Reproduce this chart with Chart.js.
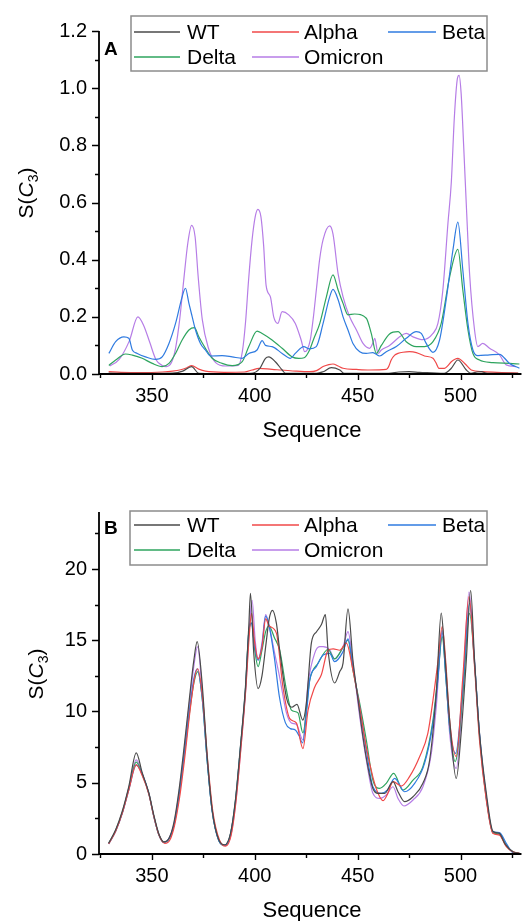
<!DOCTYPE html>
<html>
<head>
<meta charset="utf-8">
<title>S(C3) per sequence</title>
<script src="https://cdn.jsdelivr.net/npm/chart.js@4.4.1/dist/chart.umd.min.js"></script>
<style>
  html, body { margin: 0; padding: 0; background: #fff; }
  body { width: 522px; height: 921px; position: relative; overflow: hidden; }
  canvas { position: absolute; left: 0; }
  #chartA { top: 0; }
  #chartB { top: 460px; }
</style>
</head>
<body>
<canvas id="chartA" width="522" height="460"></canvas>
<canvas id="chartB" width="522" height="461"></canvas>
<script>
// ── Series ──────────────────────────────────────────────────
const seriesNames = ['WT', 'Alpha', 'Beta', 'Delta', 'Omicron'];
const seriesColors = ['#4a4a4a', '#f04848', '#2f7be0', '#2ea45e', '#b67de6'];

// ── Tick labels ─────────────────────────────────────────────
const xMajor = [350, 400, 450, 500];
const aYMajor = [0, 0.2, 0.4, 0.6, 0.8, 1.0, 1.2];
const bYMajor = [0, 5, 10, 15, 20];

// ── Panel A data (sequence position, S(C3)) ─────────────────
const aWtSeq = [329, 340, 360, 365, 369.3, 372.8, 380, 398, 402.5, 405.2, 406.8, 410, 413.3, 415, 430, 433.2, 437.2, 441.3, 443.5, 465, 470, 475, 480, 492, 495.5, 498.7, 502.8, 505, 508, 510, 513, 528];
const aWtVal = [0.003, 0.002, 0.003, 0.01, 0.026, 0.002, 0.001, 0.002, 0.02, 0.055, 0.06, 0.043, 0.014, 0.002, 0.002, 0.008, 0.022, 0.014, 0.002, 0.002, 0.007, 0.008, 0.006, 0.002, 0.02, 0.049, 0.014, 0.002, 0.007, 0.008, 0.002, 0.002];

const aAlphaSeq = [329, 335, 345, 355, 360, 364, 367, 369.3, 372.8, 376, 385, 395, 398.7, 402, 408.4, 413, 420, 426.7, 430, 433.2, 436, 438, 440.5, 442.9, 449.4, 455.8, 463.9, 465, 466.3, 468, 469.6, 472, 475.2, 478.5, 482.5, 486.6, 488, 489.5, 492.2, 494, 495.5, 498.7, 502, 505.2, 510.8, 520, 528];
const aAlphaVal = [0.008, 0.006, 0.005, 0.007, 0.01, 0.015, 0.022, 0.029, 0.017, 0.01, 0.006, 0.007, 0.014, 0.02, 0.016, 0.014, 0.01, 0.008, 0.012, 0.026, 0.033, 0.035, 0.028, 0.02, 0.016, 0.014, 0.016, 0.025, 0.049, 0.066, 0.072, 0.076, 0.078, 0.075, 0.063, 0.055, 0.04, 0.02, 0.02, 0.03, 0.043, 0.055, 0.037, 0.014, 0.008, 0.005, 0.003];

const aBetaSeq = [329.1, 332.4, 336.4, 338.8, 340.5, 342.9, 346.9, 351.8, 355, 358.3, 361.5, 364.7, 366.3, 368, 369.6, 371.2, 373.6, 376, 378.5, 384.1, 389, 393.9, 397.1, 401.1, 403.6, 405.2, 408.4, 413.3, 417.3, 419.7, 423.8, 426.5, 429.9, 433.2, 436.4, 438, 440.5, 442.9, 445.3, 447.7, 451, 454.2, 457.4, 460.7, 463.9, 468.8, 473.6, 478.5, 480.9, 483.3, 486.6, 489.8, 493, 496.3, 498.7, 501.1, 503.6, 506, 508.4, 514.1, 518.9, 523.8, 528.6];
const aBetaVal = [0.072, 0.113, 0.13, 0.125, 0.084, 0.072, 0.06, 0.051, 0.06, 0.107, 0.177, 0.27, 0.3, 0.247, 0.2, 0.154, 0.107, 0.084, 0.063, 0.064, 0.06, 0.055, 0.072, 0.084, 0.117, 0.1, 0.096, 0.072, 0.055, 0.072, 0.096, 0.088, 0.096, 0.177, 0.27, 0.296, 0.26, 0.2, 0.154, 0.107, 0.078, 0.072, 0.075, 0.063, 0.078, 0.096, 0.125, 0.148, 0.142, 0.107, 0.076, 0.119, 0.259, 0.434, 0.531, 0.364, 0.177, 0.084, 0.064, 0.067, 0.069, 0.037, 0.02];

const aDeltaSeq = [329.1, 332.4, 337.2, 340.5, 345.3, 350.2, 355, 358.3, 361.5, 364.7, 368, 370.7, 372.8, 376, 379.3, 384.1, 389, 393.9, 397.1, 401.1, 403.6, 408.4, 413.3, 418.1, 421.4, 424, 426.7, 428.5, 431.6, 434.8, 438, 440.5, 442.9, 445.3, 448.5, 454.2, 456.6, 459.1, 461.5, 465.5, 469.6, 473.6, 478.5, 482.5, 486.6, 490.6, 494.7, 498.7, 501.1, 503.6, 506, 509.2, 515.7, 523.8, 528.6];
const aDeltaVal = [0.03, 0.049, 0.07, 0.066, 0.055, 0.037, 0.026, 0.037, 0.072, 0.119, 0.154, 0.162, 0.13, 0.09, 0.055, 0.037, 0.029, 0.043, 0.096, 0.15, 0.142, 0.119, 0.09, 0.06, 0.055, 0.057, 0.085, 0.12, 0.177, 0.27, 0.347, 0.294, 0.247, 0.207, 0.21, 0.195, 0.142, 0.072, 0.1, 0.14, 0.148, 0.113, 0.096, 0.096, 0.113, 0.177, 0.34, 0.436, 0.294, 0.154, 0.072, 0.049, 0.04, 0.037, 0.035];

const aOmicronSeq = [329.5, 334, 339, 343.2, 346, 349, 352, 355, 357, 359.5, 361.5, 363.5, 365.5, 367.5, 369.3, 371, 372.5, 374.5, 377.5, 381, 386, 392, 394, 395.5, 397, 398.7, 400.2, 401.5, 403, 404.3, 405.5, 407.6, 409.2, 411.2, 413.3, 416.5, 419.7, 422.5, 424.3, 425.5, 427, 428.5, 430, 431.5, 433.2, 436.4, 438, 440.5, 442.9, 446.1, 449.4, 452.6, 455.8, 457.5, 458.3, 459.9, 461.5, 465.5, 470.4, 473.6, 476.9, 481.7, 486.6, 489, 491.4, 493.9, 495.5, 497, 498.5, 499.3, 500.3, 501.5, 503, 504.4, 506.8, 508.4, 510.8, 514.1, 518.9, 522.2, 527];
const aOmicronVal = [0.028, 0.05, 0.115, 0.2, 0.17, 0.11, 0.05, 0.03, 0.026, 0.04, 0.09, 0.19, 0.33, 0.46, 0.52, 0.48, 0.34, 0.19, 0.09, 0.04, 0.028, 0.03, 0.08, 0.18, 0.33, 0.47, 0.55, 0.576, 0.55, 0.45, 0.31, 0.27, 0.2, 0.177, 0.218, 0.207, 0.177, 0.12, 0.078, 0.085, 0.12, 0.2, 0.3, 0.4, 0.47, 0.518, 0.49, 0.35, 0.27, 0.2, 0.154, 0.107, 0.09, 0.11, 0.125, 0.072, 0.084, 0.1, 0.13, 0.142, 0.13, 0.12, 0.142, 0.177, 0.294, 0.53, 0.67, 0.9, 1.035, 1.045, 0.98, 0.8, 0.56, 0.35, 0.154, 0.096, 0.107, 0.09, 0.067, 0.032, 0.026];

// ── Panel B data ────────────────────────────────────────────
const bWtSeq = [329, 332.4, 335.6, 338.8, 342.4, 345.3, 348.5, 351, 353.4, 355.8, 358.3, 360.7, 363.1, 365.5, 368, 370.4, 372, 374.4, 376.9, 379.3, 382.5, 385.4, 388.2, 390.6, 393, 395.5, 397.1, 397.9, 399.5, 401.6, 403.5, 405.5, 407, 408.6, 410.5, 412.1, 415.5, 418, 420.5, 423.3, 425, 427.5, 430, 432.4, 434.3, 435.6, 438.8, 441.3, 442.9, 445.3, 447.7, 450.2, 452.6, 455, 457.4, 459.9, 463.1, 467.2, 469.6, 472.8, 476.9, 481.7, 485, 488.2, 490.6, 492.2, 494.7, 497.9, 500.3, 502.8, 504.9, 506.8, 509.2, 512.5, 515.7, 518.9, 521.4, 525.4, 528.6];
const bWtVal = [0.75, 1.7, 3.0, 4.75, 7.1, 5.7, 4.3, 2.7, 1.4, 0.85, 1.1, 2.2, 4.4, 7.3, 10.6, 13.6, 14.9, 12.0, 6.8, 3.1, 1.0, 0.65, 1.45, 3.8, 7.5, 11.8, 16.0, 18.3, 14.1, 11.6, 12.5, 14.8, 16.5, 17.1, 16.2, 14.3, 10.9, 10.3, 10.5, 9.4, 10.5, 14.8, 15.6, 16.1, 16.8, 14.3, 12.0, 12.8, 13.4, 17.2, 13.6, 10.8, 8.2, 6.1, 4.6, 4.26, 4.26, 5.08, 4.37, 3.67, 4.02, 4.96, 6.6, 11.3, 16.9, 14.3, 9.4, 5.3, 8.5, 13.6, 18.5, 13.6, 8.5, 4.3, 1.6, 1.45, 0.75, 0.16, 0.05];

const bAlphaSeq = [329, 332.4, 335.6, 338.8, 342.4, 345.3, 348.5, 351, 353.4, 356.3, 358.8, 361, 363.5, 366, 368.5, 370.8, 372.3, 374.6, 377.2, 379.6, 382.8, 385.8, 388.5, 390.8, 393.2, 395.6, 397.4, 398.4, 399.8, 401.6, 403.5, 405.3, 407, 410.5, 413.7, 417, 420.2, 423.4, 425.9, 429.1, 432.4, 435.6, 438.1, 441.3, 444.5, 447.7, 451, 454.2, 457.4, 459.9, 462.3, 464.5, 467.2, 471.2, 475.2, 480.1, 484.1, 486.6, 489, 491.1, 492.8, 494.7, 497.9, 501.1, 504.1, 506.8, 509.2, 512.5, 515.7, 518.9, 522.2, 525.5, 528.6];
const bAlphaVal = [0.7, 1.6, 2.85, 4.5, 6.25, 5.5, 4.2, 2.6, 1.35, 0.75, 1.0, 2.0, 4.0, 6.8, 10.0, 12.4, 13.0, 11.0, 6.4, 3.0, 1.0, 0.55, 1.3, 3.6, 7.3, 11.5, 15.5, 16.9, 15.0, 13.7, 14.5, 16.5, 16.0, 15.5, 11.7, 9.5, 9.2, 7.4, 10.1, 11.7, 12.6, 14.3, 14.4, 14.3, 14.8, 12.9, 10.3, 7.5, 5.4, 4.26, 3.74, 4.2, 5.08, 4.77, 5.43, 6.83, 8.47, 10.8, 13.5, 15.95, 13.5, 9.4, 6.83, 12.4, 18.06, 13.15, 8.0, 3.79, 1.45, 1.33, 0.51, 0.15, 0.05];

const bBetaSeq = [329, 332.4, 335.6, 338.8, 342.4, 345.3, 348.5, 351, 353.4, 355.8, 358.3, 360.7, 363.1, 365.5, 368, 370.4, 372, 374.4, 376.9, 379.3, 382.5, 385.4, 388.2, 390.6, 393, 395.5, 397.1, 398.3, 400, 401.6, 403.5, 405.3, 407, 409.5, 412, 414.9, 417.3, 419.7, 421.5, 423.2, 425.4, 426.7, 429.9, 433.2, 436.4, 438.8, 442.9, 445.3, 447.7, 451, 454.2, 457.4, 461.5, 464.5, 468, 472.8, 477.7, 482.5, 486.6, 489, 491, 492.8, 494.7, 497.6, 501.1, 504.4, 506.8, 509.2, 512.5, 515.7, 518.9, 522.2, 525.4, 528.6];
const bBetaVal = [0.7, 1.6, 2.85, 4.5, 6.25, 5.6, 4.25, 2.6, 1.35, 0.82, 1.05, 2.0, 4.0, 6.7, 9.8, 12.3, 13.0, 11.0, 6.5, 3.0, 0.95, 0.6, 1.4, 3.7, 7.4, 11.6, 15.6, 16.2, 14.5, 13.6, 14.6, 16.7, 16.0, 13.8, 11.0, 9.2, 8.8, 8.7, 8.3, 7.8, 10.3, 12.2, 13.14, 13.96, 14.08, 13.5, 14.2, 15.1, 13.1, 10.3, 7.3, 4.72, 4.26, 4.5, 5.31, 4.37, 4.96, 6.36, 9.17, 12.3, 15.7, 12.5, 8.94, 7.06, 11.74, 17.6, 13.38, 8.47, 4.02, 1.57, 1.5, 0.75, 0.1, 0.03];

const bDeltaSeq = [329, 332.4, 335.6, 338.8, 342.4, 345.3, 348.5, 351, 353.4, 355.8, 358.3, 360.7, 363.1, 365.5, 368, 370.4, 372.3, 374.4, 376.9, 379.3, 382.5, 385.4, 388.2, 390.6, 393, 395.5, 397.1, 398.5, 400, 401.6, 403.5, 405.3, 406.9, 409.5, 412.1, 415.4, 417.8, 421, 423.4, 426.7, 430.8, 435.6, 438.8, 442.9, 445.3, 447.7, 451, 454.2, 457.4, 460.7, 463.9, 467.5, 472, 476.9, 481.7, 486.6, 489, 491.1, 492.8, 494.7, 497.4, 501.1, 504.4, 506.8, 509.2, 512.5, 515.7, 518.9, 522.2, 525.5, 528.6];
const bDeltaVal = [0.75, 1.65, 2.9, 4.6, 6.45, 5.6, 4.25, 2.6, 1.35, 0.82, 1.05, 2.0, 4.0, 6.6, 9.6, 12.0, 12.8, 11.0, 6.5, 3.0, 0.95, 0.6, 1.4, 3.7, 7.4, 11.6, 15.6, 16.2, 14.3, 13.15, 14.3, 15.6, 16.0, 15.2, 14.3, 11.5, 10.1, 9.9, 8.5, 12.2, 13.4, 14.35, 13.7, 14.5, 15.0, 12.9, 10.57, 8.0, 5.19, 4.61, 4.96, 5.66, 4.49, 5.19, 6.13, 9.4, 12.5, 15.25, 12.5, 8.94, 6.48, 11.27, 16.89, 13.38, 8.3, 3.9, 1.5, 1.4, 0.6, 0.15, 0.05];

const bOmicronSeq = [329, 332.4, 335.6, 338.8, 342.4, 345.3, 348.5, 351, 353.4, 355.8, 358.3, 360.7, 363.1, 365.5, 368, 370.4, 372.2, 374.4, 376.9, 379.3, 382.5, 385.8, 388.5, 390.8, 393.2, 395.6, 397.3, 398.7, 400.2, 401.6, 403.5, 405.3, 407, 409.5, 412.1, 415.4, 417.8, 420.2, 423.4, 425.9, 429.1, 431.5, 433.2, 436.4, 438.8, 442.9, 445.3, 447.7, 451, 454.2, 457.4, 460.7, 463.9, 467.2, 469.6, 472.5, 476.9, 481.7, 485.8, 488.2, 491.1, 492.8, 494.7, 497.9, 501.1, 504.1, 506.8, 509.2, 512.5, 515.7, 518.9, 522.2, 525.5, 528.6];
const bOmicronVal = [0.75, 1.65, 2.9, 4.65, 6.6, 5.65, 4.25, 2.6, 1.35, 0.82, 1.1, 2.1, 4.2, 7.0, 10.3, 13.2, 14.55, 11.5, 6.6, 3.05, 0.95, 0.6, 1.4, 3.7, 7.4, 11.6, 15.8, 17.8, 15.0, 13.6, 14.8, 16.8, 16.0, 14.2, 12.4, 9.9, 9.2, 9.1, 8.0, 11.97, 14.08, 14.55, 14.55, 14.32, 13.7, 14.55, 15.6, 13.38, 9.64, 6.6, 4.26, 3.9, 4.14, 4.72, 3.9, 3.37, 3.79, 4.72, 7.06, 10.34, 15.5, 12.8, 8.47, 6.0, 11.27, 18.4, 13.6, 8.4, 4.0, 1.5, 1.4, 0.6, 0.15, 0.05];

// ── Helpers ─────────────────────────────────────────────────
const FONT = '"Liberation Sans", Arial, Helvetica, sans-serif';

function buildDatasets(seqs, vals) {
  return seriesNames.map((name, i) => ({
    label: name,
    data: seqs[i].map((s, j) => ({ x: s, y: vals[i][j] })),
    borderColor: seriesColors[i],
    borderWidth: 1.2,
    pointRadius: 0,
    fill: false,
    cubicInterpolationMode: 'monotone'
  }));
}

function matchMajor(list, v) {
  return list.find(m => Math.abs(m - v) < 1e-6);
}

// axes, minor ticks, legend, titles — all drawn on top of the chart
function panelDecor(spec) {
  return {
    id: 'panelDecor',
    afterDraw(chart) {
      const ctx = chart.ctx;
      const xs = chart.scales.x, ys = chart.scales.y;
      const area = chart.chartArea;
      ctx.save();

      // axis lines
      ctx.strokeStyle = '#000';
      ctx.lineWidth = 1.8;
      ctx.beginPath();
      ctx.moveTo(area.left, area.top);
      ctx.lineTo(area.left, area.bottom);
      ctx.lineTo(area.right, area.bottom);
      ctx.stroke();

      // tick marks (outward)
      ctx.lineWidth = 1.4;
      ctx.beginPath();
      xs.ticks.forEach(t => {
        const px = Math.round(xs.getPixelForValue(t.value)) + 0.5;
        const len = xMajor.includes(t.value) ? 6 : 4;
        ctx.moveTo(px, area.bottom);
        ctx.lineTo(px, area.bottom + len);
      });
      ys.ticks.forEach(t => {
        const py = Math.round(ys.getPixelForValue(t.value)) + 0.5;
        const len = matchMajor(spec.yMajor, t.value) !== undefined ? 7 : 4;
        ctx.moveTo(area.left, py);
        ctx.lineTo(area.left - len, py);
      });
      ctx.stroke();

      // legend box
      const lg = spec.legend;
      ctx.fillStyle = '#fff';
      ctx.fillRect(lg.x, lg.y, lg.w, lg.h);
      ctx.strokeStyle = '#8c8c8c';
      ctx.lineWidth = 1.5;
      ctx.strokeRect(lg.x, lg.y, lg.w, lg.h);
      const cols = [[134, 180, 187], [252, 299, 304], [388, 436, 442]];
      ctx.font = '21px ' + FONT;
      ctx.textBaseline = 'alphabetic';
      ctx.textAlign = 'left';
      seriesNames.forEach((name, i) => {
        const c = cols[i % 3];
        const row = Math.floor(i / 3);
        ctx.strokeStyle = seriesColors[i];
        ctx.lineWidth = 1.6;
        ctx.beginPath();
        ctx.moveTo(c[0], lg.lineY[row]);
        ctx.lineTo(c[1], lg.lineY[row]);
        ctx.stroke();
        ctx.fillStyle = '#000';
        ctx.fillText(name, c[2], lg.baseY[row]);
      });

      // panel letter
      ctx.font = 'bold 19px ' + FONT;
      ctx.fillText(spec.letter, 104, spec.letterY);

      // x title
      ctx.font = '22px ' + FONT;
      ctx.textAlign = 'center';
      ctx.fillText('Sequence', 312, spec.xTitleY);

      // y title: S(C3) with italic C and subscript 3
      ctx.translate(spec.yTitleX, spec.yTitleY);
      ctx.rotate(-Math.PI / 2);
      ctx.textAlign = 'left';
      const parts = [
        ['S(', '21px ' + FONT, 0],
        ['C', 'italic 21px ' + FONT, 0],
        ['3', '14px ' + FONT, 5],
        [')', '21px ' + FONT, 0]
      ];
      let total = 0;
      parts.forEach(p => { ctx.font = p[1]; total += ctx.measureText(p[0]).width; });
      let cx = -total / 2;
      parts.forEach(p => {
        ctx.font = p[1];
        ctx.fillText(p[0], cx, p[2]);
        cx += ctx.measureText(p[0]).width;
      });

      ctx.restore();
    }
  };
}

function makePanel(canvasId, spec, datasets) {
  const tickFont = { family: FONT, size: 20 };
  return new Chart(document.getElementById(canvasId), {
    type: 'line',
    data: { datasets },
    options: {
      responsive: false,
      animation: false,
      layout: { padding: { top: spec.top, left: 0, right: 0, bottom: 0 } },
      plugins: { legend: { display: false }, tooltip: { enabled: false } },
      scales: {
        x: {
          type: 'linear',
          min: 324.3,
          max: 529.6,
          grid: { display: false, drawTicks: false },
          border: { display: false },
          ticks: {
            stepSize: 25, includeBounds: false, autoSkip: false, maxRotation: 0,
            padding: 10, color: '#000', font: tickFont,
            callback: v => xMajor.includes(v) ? String(v) : ''
          },
          afterFit: s => { s.height = spec.xAxisHeight; }
        },
        y: {
          type: 'linear',
          min: 0,
          max: spec.yMax,
          grid: { display: false, drawTicks: false },
          border: { display: false },
          ticks: {
            stepSize: spec.yStep, includeBounds: false, autoSkip: false,
            padding: 12, color: '#000', font: tickFont,
            callback: v => {
              const m = matchMajor(spec.yMajor, v);
              return m === undefined ? '' : m.toFixed(spec.yDigits);
            }
          },
          afterFit: s => { s.width = 99; }
        }
      }
    },
    plugins: [panelDecor(spec)]
  });
}

// ── Build both panels ───────────────────────────────────────
makePanel('chartA', {
  top: 31, xAxisHeight: 86, yMax: 1.2, yStep: 0.1, yMajor: aYMajor, yDigits: 1,
  letter: 'A', letterY: 55, xTitleY: 437, yTitleX: 33, yTitleY: 193,
  legend: { x: 131, y: 16, w: 356, h: 55, lineY: [32, 57], baseY: [39, 63.5] }
}, buildDatasets(
  [aWtSeq, aAlphaSeq, aBetaSeq, aDeltaSeq, aOmicronSeq],
  [aWtVal, aAlphaVal, aBetaVal, aDeltaVal, aOmicronVal]
));

makePanel('chartB', {
  top: 52, xAxisHeight: 67, yMax: 24, yStep: 2.5, yMajor: bYMajor, yDigits: 0,
  letter: 'B', letterY: 74, xTitleY: 457, yTitleX: 43, yTitleY: 214,
  legend: { x: 130, y: 51, w: 357, h: 54, lineY: [65, 90], baseY: [72, 97] }
}, buildDatasets(
  [bWtSeq, bAlphaSeq, bBetaSeq, bDeltaSeq, bOmicronSeq],
  [bWtVal, bAlphaVal, bBetaVal, bDeltaVal, bOmicronVal]
));
</script>
</body>
</html>
